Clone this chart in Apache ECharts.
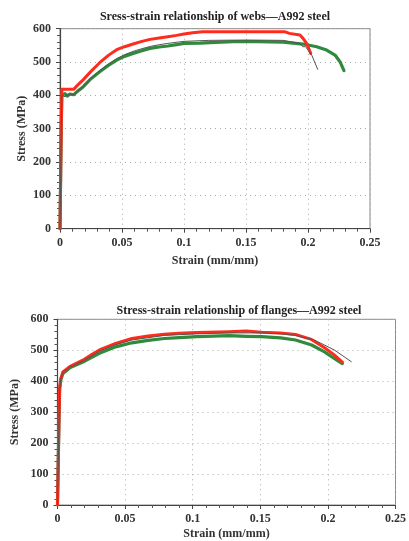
<!DOCTYPE html>
<html>
<head>
<meta charset="utf-8">
<script src="https://cdn.jsdelivr.net/npm/echarts@6/dist/echarts.min.js"></script>
<style>
  html, body { margin: 0; padding: 0; background: #fff; }
  #chart { width: 409px; height: 541px; }
</style>
</head>
<body>
<div id="chart"></div>
<script>
// Tick labels
const strainTicks = [0, 0.05, 0.1, 0.15, 0.2, 0.25];
const stressTicks = [0, 100, 200, 300, 400, 500, 600];

// Webs — A992 steel (strain in mm/mm, stress in MPa)
const webRedStrain   = [0, 0.001, 0.0015, 0.011, 0.014, 0.019, 0.025, 0.032, 0.039, 0.0457, 0.052, 0.059, 0.066, 0.0726, 0.08, 0.087, 0.094, 0.1, 0.107, 0.115, 0.15, 0.181, 0.185, 0.1935, 0.196, 0.1989, 0.2011, 0.2022];
const webRedStress   = [0, 300, 418, 418, 430, 448, 472, 498, 520, 537, 546, 554, 562, 568, 572, 576, 580, 584, 588, 591, 591, 591, 586, 581, 571, 556, 536, 526];
const webGreenStrain = [0, 0.001, 0.0015, 0.004, 0.006, 0.008, 0.011, 0.014, 0.0188, 0.025, 0.032, 0.039, 0.0457, 0.052, 0.059, 0.066, 0.0726, 0.08, 0.087, 0.094, 0.1, 0.113, 0.125, 0.14, 0.16, 0.18, 0.196, 0.207, 0.215, 0.2218, 0.2258, 0.229];
const webGreenStress = [0, 300, 402, 405, 398, 404, 402, 412, 426, 450, 471, 490, 506, 517, 526, 534, 541, 545, 548, 552, 556, 557, 559, 561, 561, 560, 554, 546, 536, 521, 501, 474];
const webGrayStrain  = [0, 0.001, 0.0015, 0.004, 0.006, 0.011, 0.014, 0.019, 0.025, 0.032, 0.039, 0.0457, 0.052, 0.059, 0.066, 0.073, 0.08, 0.087, 0.1, 0.12, 0.15, 0.18, 0.1935, 0.1957, 0.198, 0.203, 0.2078];
const webGrayStress  = [0, 300, 400, 396, 402, 402, 412, 428, 452, 474, 494, 510, 522, 532, 540, 547, 552, 556, 562, 565, 566, 565, 556, 546, 546, 521, 478];

// Flanges — A992 steel
const flgRedStrain   = [0, 0.001, 0.0016, 0.0025, 0.004, 0.009, 0.0187, 0.025, 0.031, 0.043, 0.055, 0.067, 0.079, 0.09, 0.103, 0.127, 0.1395, 0.151, 0.165, 0.176, 0.1878, 0.1975, 0.2047, 0.2107];
const flgRedStress   = [0, 250, 380, 410, 430, 447, 468, 485, 501, 522, 538, 546, 552, 555, 557, 560, 562, 558, 556, 551, 535, 508, 485, 462];
const flgGreenStrain = [0, 0.001, 0.0016, 0.0025, 0.004, 0.009, 0.0187, 0.025, 0.031, 0.043, 0.055, 0.067, 0.079, 0.09, 0.103, 0.127, 0.14, 0.151, 0.165, 0.176, 0.188, 0.1975, 0.2047, 0.2107];
const flgGreenStress = [0, 250, 375, 405, 425, 443, 462, 476, 490, 511, 524, 532, 538, 541, 544, 547, 545, 544, 540, 533, 517, 495, 474, 457];
const flgGrayStrain  = [0, 0.001, 0.0016, 0.0025, 0.004, 0.009, 0.0187, 0.031, 0.043, 0.055, 0.079, 0.103, 0.127, 0.151, 0.165, 0.176, 0.19, 0.2047, 0.212, 0.2173];
const flgGrayStress  = [0, 250, 378, 408, 428, 445, 465, 497, 518, 533, 548, 553, 556, 556, 553, 548, 533, 501, 479, 463];

const zip = (xs, ys) => xs.map((x, i) => [x, ys[i]]);

const SERIF = '"Liberation Serif", "DejaVu Serif", serif';
const RED = '#ff2b1c';
const GREEN = '#2f8a3c';
const GRAY = '#555555';

function xAxisFor(gridIndex, nameGap) {
  return {
    gridIndex, type: 'value', min: 0, max: 0.25, interval: 0.05,
    name: 'Strain (mm/mm)', nameLocation: 'middle', nameGap, nameMoveOverlap: false,
    nameTextStyle: { fontFamily: SERIF, fontSize: 12, fontWeight: 'bold', color: '#333' },
    axisLine: { show: true, onZero: false, lineStyle: { color: '#444', width: 1.2 } },
    axisTick: { show: true, length: 4, lineStyle: { color: '#444' } },
    minorTick: { show: true, splitNumber: 5, length: 3, lineStyle: { color: '#555' } },
    axisLabel: { fontFamily: SERIF, fontSize: 12, fontWeight: 'bold', color: '#333', margin: 8,
      formatter: v => strainTicks.includes(+v.toFixed(2)) ? String(+v.toFixed(2)) : '' },
    splitLine: { show: true, lineStyle: { color: '#aaa', type: [1, 4], width: 1 } }
  };
}
function yAxisFor(gridIndex, nameGap) {
  return {
    gridIndex, type: 'value', min: 0, max: 600, interval: 100,
    name: 'Stress (MPa)', nameLocation: 'middle', nameGap, nameMoveOverlap: false,
    nameTextStyle: { fontFamily: SERIF, fontSize: 12, fontWeight: 'bold', color: '#333' },
    axisLine: { show: true, lineStyle: { color: '#444', width: 1.2 } },
    axisTick: { show: true, length: 4, lineStyle: { color: '#444' } },
    minorTick: { show: true, splitNumber: 5, length: 3, lineStyle: { color: '#555' } },
    axisLabel: { fontFamily: SERIF, fontSize: 12, fontWeight: 'bold', color: '#333', margin: 9,
      formatter: v => stressTicks.includes(v) ? String(v) : '' },
    splitLine: { show: true, lineStyle: { color: '#aaa', type: [1, 4], width: 1 } }
  };
}
function curve(name, xi, data, color, width) {
  return {
    name, type: 'line', xAxisIndex: xi, yAxisIndex: xi, data,
    showSymbol: false, symbol: 'none', smooth: false, animation: false,
    lineStyle: { color, width, join: 'round', cap: 'round' }
  };
}

const chart = echarts.init(document.getElementById('chart'), null, { renderer: 'canvas' });
chart.setOption({
  animation: false,
  backgroundColor: '#fff',
  title: [
    { text: 'Sress-strain relationship of webs\u2014A992 steel', left: 210, top: 6, textAlign: 'center',
      textStyle: { fontFamily: SERIF, fontSize: 12, fontWeight: 'bold', color: '#222' } },
    { text: 'Stress-strain relationship of flanges\u2014A992 steel', left: 234, top: 300, textAlign: 'center',
      textStyle: { fontFamily: SERIF, fontSize: 12, fontWeight: 'bold', color: '#222' } }
  ],
  grid: [
    { left: 60, top: 28.7, width: 310, height: 200, show: true, borderColor: '#888', borderWidth: 1, backgroundColor: 'transparent' },
    { left: 57.5, top: 319.3, width: 344, height: 185.7, show: true, borderColor: '#888', borderWidth: 1, backgroundColor: 'transparent' }
  ],
  xAxis: [xAxisFor(0, 26), xAxisFor(1, 23)],
  yAxis: [yAxisFor(0, 32), yAxisFor(1, 37)],
  series: [
    curve('Web green', 0, zip(webGreenStrain, webGreenStress), GREEN, 3.2),
    curve('Web red', 0, zip(webRedStrain, webRedStress), RED, 3),
    curve('Web gray', 0, zip(webGrayStrain, webGrayStress), GRAY, 1),
    curve('Flange green', 1, zip(flgGreenStrain, flgGreenStress), GREEN, 3.2),
    curve('Flange red', 1, zip(flgRedStrain, flgRedStress), RED, 3),
    curve('Flange gray', 1, zip(flgGrayStrain, flgGrayStress), GRAY, 1)
  ]
});
</script>
</body>
</html>
